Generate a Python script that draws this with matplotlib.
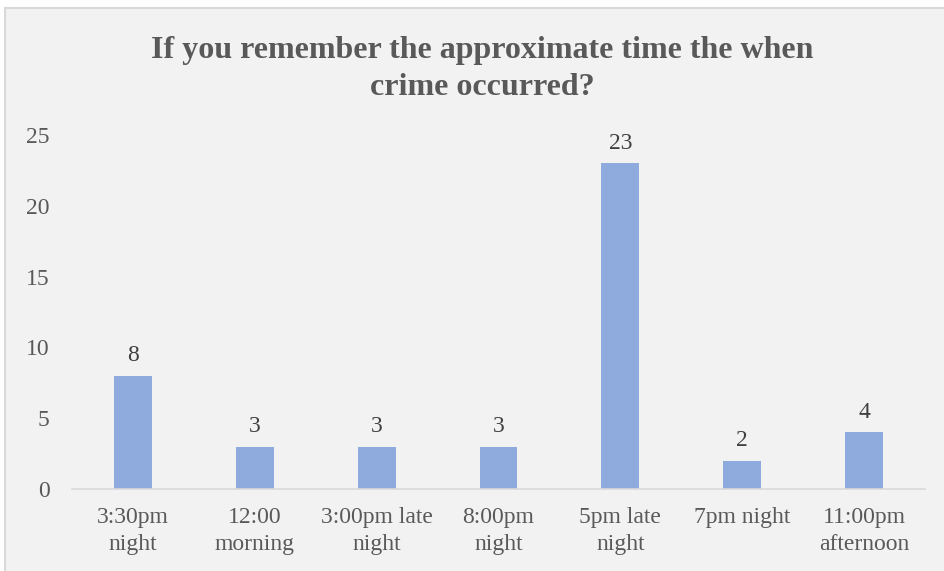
import numpy as np
import matplotlib
matplotlib.use("Agg")
import matplotlib.pyplot as plt
from matplotlib.patches import Rectangle

# data
categories = ['3:30pm\nnight', '12:00\nmorning', '3:00pm late\nnight', '8:00pm\nnight',
              '5pm late\nnight', '7pm night', '11:00pm\nafternoon']
counts = [8, 3, 3, 3, 23, 2, 4]
yticks = [0, 5, 10, 15, 20, 25]

plt.rcParams['font.family'] = ['Liberation Serif', 'DejaVu Serif']

fig = plt.figure(figsize=(9.44, 5.71), dpi=100, facecolor='white')

# chart frame (grey box with light border)
fig.patches.append(Rectangle((5 / 944, -0.05), 1.0, 1 - 8 / 571 + 0.05,
                             transform=fig.transFigure, facecolor='#F2F2F2',
                             edgecolor='#D9D9D9', linewidth=1.5, zorder=-1))

ax = fig.add_axes([72 / 944, 1 - 489 / 571, (925 - 72) / 944, (489 - 135) / 571])
ax.set_facecolor('none')
ax.set_zorder(2)

x = np.arange(len(categories))
bars = ax.bar(x, counts, width=0.31, color='#8FAADC', zorder=2)
ax.bar_label(bars, labels=[str(c) for c in counts], padding=7, fontsize=17, color='#404040')

ax.set_xlim(-0.5, len(categories) - 0.5)
ax.set_ylim(0, 25)
ax.set_yticks(yticks)
ax.set_xticks(x)
ax.set_xticklabels(categories, linespacing=1.35)

for s in ['top', 'right', 'left']:
    ax.spines[s].set_visible(False)
ax.spines['bottom'].set_color('#D9D9D9')
ax.spines['bottom'].set_linewidth(1.2)

ax.tick_params(axis='x', length=0, pad=13, labelsize=17, labelcolor='#595959')
ax.tick_params(axis='y', length=0, pad=16, labelsize=17, labelcolor='#595959')

fig.text(482 / 944, 1 - 69 / 571,
         'If you remember the approximate time the when\ncrime occurred?',
         ha='center', va='center', fontsize=23, fontweight='bold', color='#595959',
         linespacing=1.38, zorder=3)

fig.savefig('out.png', dpi=100)
